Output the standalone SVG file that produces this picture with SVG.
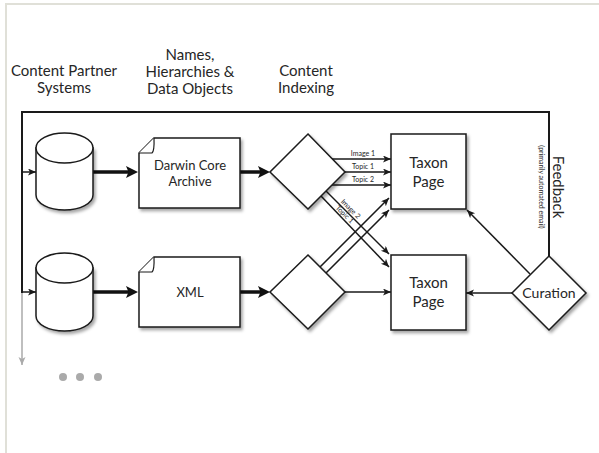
<svg xmlns="http://www.w3.org/2000/svg" width="599" height="453" viewBox="0 0 599 453">
<style>
  .t { font-family: Lato, "Liberation Sans", sans-serif; fill: #262626; text-anchor: middle; }
  .hdr { font-size: 15px; }
  .lbl { font-size: 7px; }
  .shape { fill: #ffffff; stroke: #1a1a1a; stroke-width: 1.5; filter: url(#sh); }
  .thin { fill: none; stroke: #1a1a1a; stroke-width: 1.5; marker-end: url(#ah); }
  .thick { fill: none; stroke: #111; stroke-width: 3.5; marker-end: url(#ahb); }
  .frame { fill: none; stroke: #1a1a1a; stroke-width: 2; }
</style>
<defs>
  <filter id="sh" x="-20%" y="-20%" width="150%" height="150%">
    <feDropShadow dx="2" dy="2.5" stdDeviation="1.6" flood-color="#000" flood-opacity="0.35"/>
  </filter>
  <marker id="ah" markerUnits="userSpaceOnUse" markerWidth="9" markerHeight="8" refX="8" refY="3.5" orient="auto">
    <path d="M0,0 L8,3.5 L0,7 L2,3.5 Z" fill="#1a1a1a"/>
  </marker>
  <marker id="ahb" markerUnits="userSpaceOnUse" markerWidth="13" markerHeight="13" refX="4" refY="6" orient="auto">
    <path d="M0,0 L12,6 L0,12 L2.5,6 Z" fill="#111"/>
  </marker>
  <marker id="ahg" markerUnits="userSpaceOnUse" markerWidth="9" markerHeight="8" refX="8" refY="3.5" orient="auto">
    <path d="M0,0 L8,3.5 L0,7 L2,3.5 Z" fill="#aaaaaa"/>
  </marker>
</defs>
<rect width="599" height="453" fill="#ffffff"/>
<path d="M6,453 L6,4 L599,4" fill="none" stroke="#e0e0d8" stroke-width="2"/>

<!-- headers -->
<text class="t hdr" x="64" y="76">Content Partner</text>
<text class="t hdr" x="64" y="93">Systems</text>
<text class="t hdr" x="190" y="60">Names,</text>
<text class="t hdr" x="190" y="77">Hierarchies &amp;</text>
<text class="t hdr" x="190" y="94">Data Objects</text>
<text class="t hdr" x="306" y="76">Content</text>
<text class="t hdr" x="306" y="93">Indexing</text>

<g id="connectors">
  <path class="frame" d="M549,256 L549,112 L22,112 L22,293"/>
  <path d="M22,293 L22,365" fill="none" stroke="#aaaaaa" stroke-width="1.5" marker-end="url(#ahg)"/>
  <path class="thin" d="M22,172 L36,172"/>
  <path class="thin" d="M22,292 L36,292"/>
  <path class="thick" d="M93,172 L130,172"/>
  <path class="thick" d="M93,292 L130,292"/>
  <path class="thick" d="M240,172 L262,172"/>
  <path class="thick" d="M240,292 L262,292"/>
  <path class="thin" d="M332,159 L391,159"/>
  <path class="thin" d="M345,172 L391,172"/>
  <path class="thin" d="M332,185 L391,185"/>
  <path class="thin" d="M326,191 L389,254"/>
  <path class="thin" d="M321,196 L389,267"/>
  <path class="thin" d="M320,267 L389,198"/>
  <path class="thin" d="M326,273 L389,210"/>
  <path class="thin" d="M345,292 L391,292"/>
  <path class="thin" d="M512,293 L466,293"/>
  <path class="thin" d="M530,274 L467,210"/>
  <text class="t lbl" x="363" y="156">Image 1</text>
  <text class="t lbl" x="363" y="169">Topic 1</text>
  <text class="t lbl" x="363" y="182">Topic 2</text>
  <text class="t lbl" transform="translate(349,210.5) rotate(45)">Image 2</text>
  <text class="t lbl" transform="translate(343,216) rotate(45)">Topic 1</text>
  <text class="t" font-size="15" transform="translate(553,187) rotate(90)">Feedback</text>
  <text class="t" font-size="7" transform="translate(539,187) rotate(90)">(primarily automated email)</text>
</g>

<g id="cyl1">
  <path class="shape" d="M36,148 L36,195 A28.5,15 0 0 0 93,195 L93,148 Z"/>
  <ellipse cx="64.5" cy="148" rx="28.5" ry="15" fill="#fff" stroke="#1a1a1a" stroke-width="1.5"/>
</g>
<g id="cyl2">
  <path class="shape" d="M36,268 L36,316 A28.5,15 0 0 0 93,316 L93,268 Z"/>
  <ellipse cx="64.5" cy="268" rx="28.5" ry="15" fill="#fff" stroke="#1a1a1a" stroke-width="1.5"/>
</g>

<g id="doc1">
  <path class="shape" d="M154,138 L240,138 L240,208 L139,208 L139,153 Z"/>
  <path d="M139,153 L152,153 Q154.5,151 154,138" fill="#fff" stroke="#1a1a1a" stroke-width="1.2"/>
  <text class="t" font-size="13" x="190" y="170">Darwin Core</text>
  <text class="t" font-size="13" x="190" y="186">Archive</text>
</g>
<g id="doc2">
  <path class="shape" d="M154,257 L240,257 L240,327 L139,327 L139,272 Z"/>
  <path d="M139,272 L152,272 Q154.5,270 154,257" fill="#fff" stroke="#1a1a1a" stroke-width="1.2"/>
  <text class="t" font-size="13" x="190" y="297">XML</text>
</g>

<g id="idx1">
  <path class="shape" d="M308,134 L345,172 L308,209 L270,172 Z"/>
</g>
<g id="idx2">
  <path class="shape" d="M308,255 L345,292 L308,329 L270,292 Z"/>
</g>

<g id="taxon1">
  <rect class="shape" x="391" y="134" width="75" height="75"/>
  <text class="t" font-size="15" x="428.5" y="168">Taxon</text>
  <text class="t" font-size="15" x="428.5" y="187">Page</text>
</g>
<g id="taxon2">
  <rect class="shape" x="391" y="255" width="75" height="75"/>
  <text class="t" font-size="15" x="428.5" y="288">Taxon</text>
  <text class="t" font-size="15" x="428.5" y="307">Page</text>
</g>

<g id="curation">
  <path class="shape" d="M549,256 L586,293 L549,330 L512,293 Z"/>
  <text class="t" font-size="14" x="549" y="298">Curation</text>
</g>

<g id="more" fill="#aaaaaa">
  <circle cx="63" cy="377" r="4"/>
  <circle cx="80" cy="377" r="4"/>
  <circle cx="98" cy="377" r="4"/>
</g>
</svg>
